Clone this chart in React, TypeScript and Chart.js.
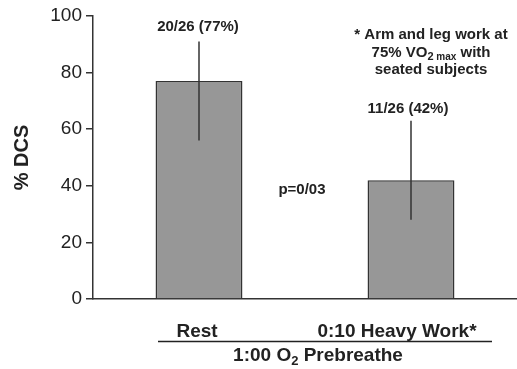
import React, { useEffect, useRef } from "react";
import { Chart, registerables } from "chart.js";

Chart.register(...registerables);

const categories = ["Rest", "0:10 Heavy Work*"];
const values = [77, 42];
const errLow = [56, 28];
const errHigh = [91, 63];
const barLabels = ["20/26 (77%)", "11/26 (42%)"];
const yTicks = [0, 20, 40, 60, 80, 100];
const groupLabel = "1:00 O";
const pValue = "p=0/03";
const footnote = ["* Arm and leg work at", "75% VO", "seated subjects"];

const FONT = '"Liberation Sans", Arial, Helvetica, sans-serif';
const INK = "#222222";

const annotPlugin = {
  id: "annot",
  afterDatasetsDraw(chart: any) {
    const ctx = chart.ctx;
    const x = chart.scales.x;
    const y = chart.scales.y;
    ctx.save();
    // error bars
    ctx.strokeStyle = "#333333";
    ctx.lineWidth = 1.5;
    values.forEach((_, i) => {
      const px = x.getPixelForValue(i);
      ctx.beginPath();
      ctx.moveTo(px, y.getPixelForValue(errHigh[i]));
      ctx.lineTo(px, y.getPixelForValue(errLow[i]));
      ctx.stroke();
    });
    // bar labels
    ctx.fillStyle = INK;
    ctx.textAlign = "center";
    ctx.textBaseline = "middle";
    ctx.font = `bold 15px ${FONT}`;
    const lblOff = [15, 12];
    barLabels.forEach((t, i) => {
      const px = x.getPixelForValue(i) - (i === 0 ? 1 : 3);
      ctx.fillText(t, px, y.getPixelForValue(errHigh[i]) - lblOff[i]);
    });
    // p value
    ctx.fillText(pValue, 302, 190);
    // footnote
    ctx.fillText(footnote[0], 431, 35);
    ctx.fillText(footnote[2], 431, 70);
    // line 2 with subscript
    const bigA = footnote[1];
    const sub = "2";
    const subM = " max";
    const rest = " with";
    ctx.font = `bold 15px ${FONT}`;
    const wA = ctx.measureText(bigA).width;
    const wR = ctx.measureText(rest).width;
    ctx.font = `bold 11px ${FONT}`;
    const wS = ctx.measureText(sub).width;
    ctx.font = `bold 10px ${FONT}`;
    const wM = ctx.measureText(subM).width;
    let sx = 431 - (wA + wS + wM + wR) / 2;
    ctx.textAlign = "left";
    ctx.font = `bold 15px ${FONT}`;
    ctx.fillText(bigA, sx, 53);
    sx += wA;
    ctx.font = `bold 11px ${FONT}`;
    ctx.fillText(sub, sx, 57);
    sx += wS;
    ctx.font = `bold 10px ${FONT}`;
    ctx.fillText(subM, sx, 57);
    sx += wM;
    ctx.font = `bold 15px ${FONT}`;
    ctx.fillText(rest, sx, 53);

    // x category labels
    ctx.textAlign = "center";
    ctx.font = `bold 19px ${FONT}`;
    const xOff = [-2, -14];
    categories.forEach((c, i) => {
      ctx.fillText(c, x.getPixelForValue(i) + xOff[i], 332);
    });
    // underline
    ctx.strokeStyle = "#222222";
    ctx.lineWidth = 1.5;
    ctx.beginPath();
    ctx.moveTo(158, 341.5);
    ctx.lineTo(492, 341.5);
    ctx.stroke();
    // group label with subscript
    ctx.font = `bold 19px ${FONT}`;
    const g1 = groupLabel;
    const g3 = " Prebreathe";
    const w1 = ctx.measureText(g1).width;
    const w3 = ctx.measureText(g3).width;
    ctx.font = `bold 13px ${FONT}`;
    const w2 = ctx.measureText("2").width;
    let gx = 318 - (w1 + w2 + w3) / 2;
    ctx.textAlign = "left";
    ctx.font = `bold 19px ${FONT}`;
    ctx.fillText(g1, gx, 356);
    gx += w1;
    ctx.font = `bold 13px ${FONT}`;
    ctx.fillText("2", gx, 361);
    gx += w2;
    ctx.font = `bold 19px ${FONT}`;
    ctx.fillText(g3, gx, 356);
    ctx.restore();
  },
};

export default function App() {
  const ref = useRef<HTMLCanvasElement>(null);
  useEffect(() => {
    if (!ref.current) return;
    const chart = new Chart(ref.current, {
      type: "bar",
      data: {
        labels: categories,
        datasets: [
          {
            data: values,
            backgroundColor: "#979797",
            borderColor: "#333333",
            borderWidth: 1.5,
            barPercentage: 0.41,
            categoryPercentage: 1,
          },
        ],
      },
      options: {
        animation: false,
        responsive: false,
        maintainAspectRatio: false,
        layout: { padding: { top: 16, right: 0, bottom: 0, left: 0 } },
        plugins: { legend: { display: false }, tooltip: { enabled: false } },
        scales: {
          x: {
            type: "category",
            offset: true,
            grid: { display: false, drawTicks: false },
            border: { display: true, color: "#333333", width: 1.5 },
            ticks: { display: false },
            afterFit: (s: any) => {
              s.height = 70;
            },
          },
          y: {
            min: 0,
            max: 100,
            afterBuildTicks: (s: any) => {
              s.ticks = yTicks.map((v) => ({ value: v }));
            },
            grid: {
              drawOnChartArea: false,
              drawTicks: true,
              tickLength: 7,
              color: "#333333",
              lineWidth: 1.5,
            },
            border: { display: true, color: "#333333", width: 1.5 },
            ticks: {
              padding: 4,
              color: INK,
              font: { family: FONT, size: 19 },
            },
            title: {
              display: true,
              text: "% DCS",
              color: INK,
              font: { family: FONT, size: 20, weight: "bold" },
              padding: { top: 10, bottom: 0 },
            },
            afterFit: (s: any) => {
              s.width = 93;
            },
          },
        },
      },
      plugins: [annotPlugin],
    });
    return () => chart.destroy();
  }, []);
  return (
    <div style={{ position: "fixed", left: 0, top: 0, width: 517, height: 369, background: "#fff" }}>
      <canvas ref={ref} width={517} height={369} style={{ width: 517, height: 369 }} />
    </div>
  );
}
